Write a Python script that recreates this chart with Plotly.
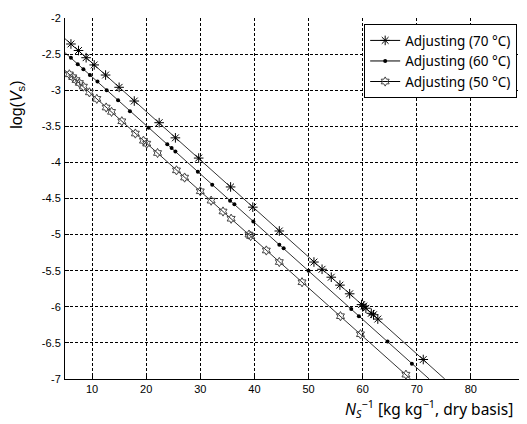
import numpy as np
import plotly.graph_objects as go

# ---- data ----
x70 = [6.1, 7.5, 8.9, 10.4, 12.5, 15.0, 17.8, 22.4, 25.4, 29.7, 35.6, 39.7, 44.6,
       51.0, 52.5, 54.2, 55.8, 57.6, 59.8, 60.2, 60.6, 61.6, 62.0, 62.8, 71.2]
y70 = [-2.36, -2.45, -2.55, -2.65, -2.79, -2.96, -3.15, -3.45, -3.66, -3.94, -4.34, -4.62, -4.95,
       -5.38, -5.48, -5.59, -5.70, -5.82, -5.97, -5.99, -6.02, -6.09, -6.11, -6.17, -6.73]

x60 = [6.1, 7.35, 8.4, 9.6, 11.0, 12.7, 14.8, 17.0, 20.45, 23.9, 24.7, 25.4, 29.55, 32.2,
       35.5, 36.3, 39.8, 44.6, 45.4, 50.0, 57.9, 59.3, 64.6, 69.1]
y60 = [-2.55, -2.64, -2.71, -2.79, -2.88, -3.00, -3.14, -3.29, -3.52, -3.75, -3.80, -3.85, -4.13, -4.31,
       -4.53, -4.58, -4.82, -5.14, -5.19, -5.50, -6.03, -6.13, -6.48, -6.79]

x50 = [5.8, 6.43, 7.04, 7.66, 8.4, 9.51, 10.88, 12.61, 13.6, 15.5, 18.0, 19.5, 20.1, 22.1,
       25.6, 27.1, 30.0, 32.0, 34.2, 35.7, 39.0, 39.3, 42.2, 44.6, 48.8, 55.9, 59.6, 68.0]
y50 = [-2.78, -2.82, -2.86, -2.90, -2.95, -3.03, -3.12, -3.24, -3.30, -3.43, -3.60, -3.70, -3.74, -3.87,
       -4.11, -4.21, -4.40, -4.53, -4.68, -4.78, -5.00, -5.02, -5.22, -5.38, -5.66, -6.13, -6.38, -6.94]

series_names = ["Adjusting (70 °C)", "Adjusting (60 °C)", "Adjusting (50 °C)"]

x_tickvals = [10, 20, 30, 40, 50, 60, 70, 80, 90]
x_ticktext = ["10", "20", "30", "40", "50", "60", "70", "80", "90"]
y_tickvals = [-2, -2.5, -3, -3.5, -4, -4.5, -5, -5.5, -6, -6.5, -7]
y_ticktext = ["-2", "-2.5", "-3", "-3.5", "-4", "-4.5", "-5", "-5.5", "-6", "-6.5", "-7"]

X_MIN, X_MAX = 5, 90
Y_MIN, Y_MAX = -7, -2

# ---- styles ----
marker_styles = [
    dict(symbol="asterisk-open", size=8, color="black", line=dict(color="black", width=1)),
    dict(symbol="circle", size=4, color="black", line=dict(color="black", width=0)),
    dict(symbol="hexagram-open", size=7, color="#444", line=dict(color="#444", width=1)),
]
line_color = "#333"

fig = go.Figure()

for xs, ys, name, ms in zip([x70, x60, x50], [y70, y60, y50], series_names, marker_styles):
    xa = np.array(xs)
    ya = np.array(ys)
    m, b = np.polyfit(xa, ya, 1)
    x_end = (Y_MIN - b) / m
    xf = np.array([X_MIN, x_end])
    fig.add_trace(go.Scatter(x=xf, y=m * xf + b, mode="lines",
                             line=dict(color=line_color, width=1),
                             showlegend=False, hoverinfo="skip"))
    fig.add_trace(go.Scatter(x=xa, y=ya, mode="markers", marker=ms, showlegend=False))
    # legend entry (line + marker)
    fig.add_trace(go.Scatter(x=[None], y=[None], mode="lines+markers", name=name,
                             marker=ms, line=dict(color="black", width=1)))

axis_common = dict(
    showline=True, linecolor="black", linewidth=1, mirror=False,
    showgrid=True, gridcolor="black", gridwidth=1, griddash="3px,2px",
    ticks="inside", ticklen=4, tickcolor="black", zeroline=False, automargin=False,
    tickfont=dict(family="Liberation Sans, Arial, sans-serif", size=11, color="black"),
)

fig.update_xaxes(range=[X_MIN, X_MAX], tickvals=x_tickvals, ticktext=x_ticktext, **axis_common)
fig.update_yaxes(range=[Y_MIN, Y_MAX], tickvals=y_tickvals, ticktext=y_ticktext,
                 ticklabelstandoff=1, **axis_common)

# the page body adds an 8px offset, so the figure is sized to fill the rest of the window
fig.update_layout(
    width=519, height=416,
    margin=dict(l=57, r=2, t=10, b=45, autoexpand=False),
    plot_bgcolor="white", paper_bgcolor="white",
    legend=dict(x=0.983, y=0.983, xanchor="right", yanchor="top",
                bgcolor="white", bordercolor="black", borderwidth=1,
                font=dict(family="Noto Sans, sans-serif", size=13.5, color="black"),
                tracegroupgap=0, itemwidth=30),
    annotations=[
        dict(text="log(<i>V</i><sub>s</sub>)", xref="paper", yref="paper",
             x=-0.104, y=0.76, textangle=-90, showarrow=False,
             xanchor="center", yanchor="middle",
             font=dict(family="Liberation Sans, Arial, sans-serif", size=16, color="black")),
        dict(text="<i>N</i><sub><i>S</i></sub><sup>−1</sup> [kg kg<sup>−1</sup>, dry basis]",
             xref="paper", yref="paper", x=0.978, y=-0.083, showarrow=False,
             xanchor="right", yanchor="middle",
             font=dict(family="Noto Sans, sans-serif", size=15.5, color="black")),
    ],
)

fig.write_html("out.html")
